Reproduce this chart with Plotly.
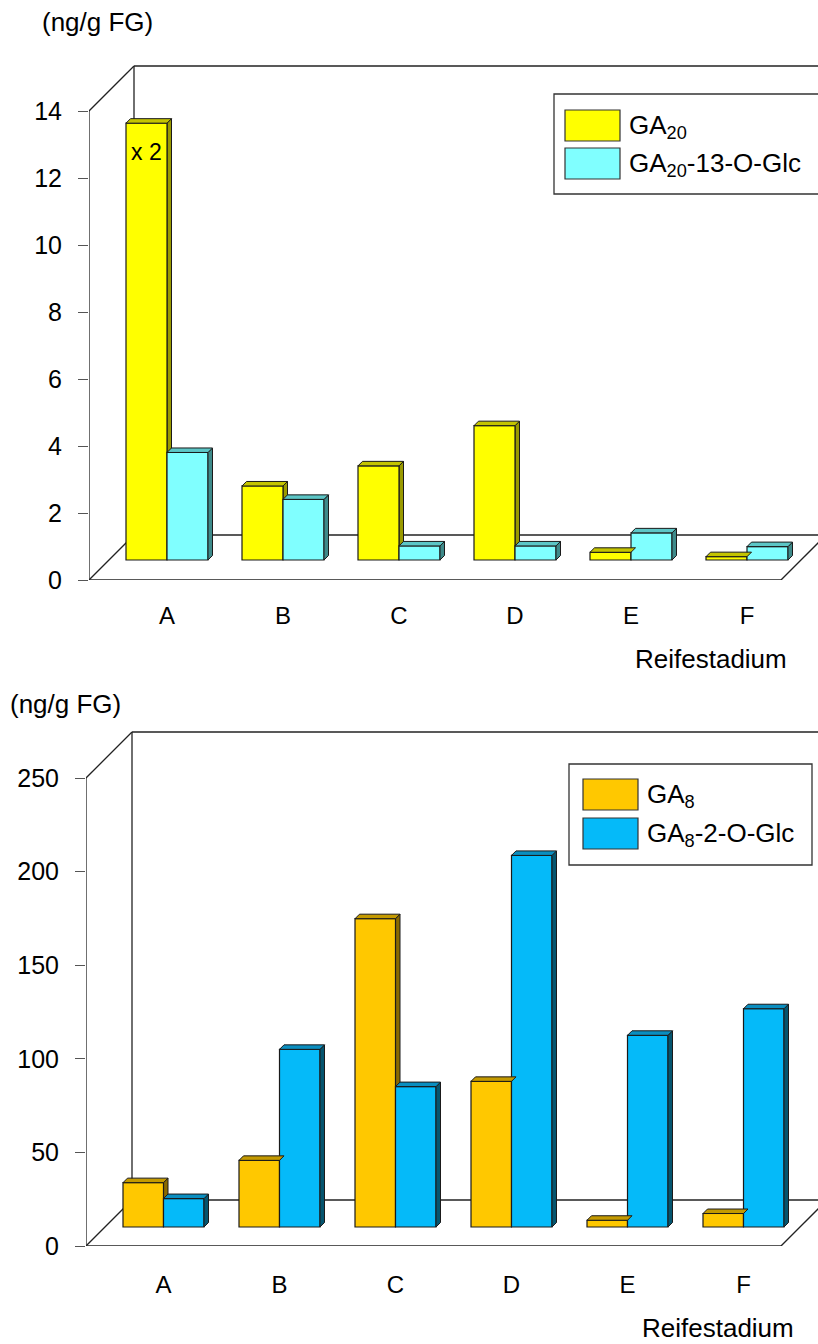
import plotly.graph_objects as go

# ---------------- data ----------------
categories = ["A", "B", "C", "D", "E", "F"]

top_series_names = ["GA<sub>20</sub>", "GA<sub>20</sub>-13-O-Glc"]
ga20 = [13.04, 2.21, 2.81, 4.01, 0.23, 0.10]
ga20_glc = [3.21, 1.81, 0.42, 0.42, 0.81, 0.40]
top_ticks = [0, 2, 4, 6, 8, 10, 12, 14]

bot_series_names = ["GA<sub>8</sub>", "GA<sub>8</sub>-2-O-Glc"]
ga8 = [23.7, 35.6, 164.7, 77.8, 3.6, 7.2]
ga8_glc = [15.2, 94.9, 75.0, 198.5, 102.4, 116.6]
bot_ticks = [0, 50, 100, 150, 200, 250]

y_unit_label = "(ng/g FG)"
x_title = "Reifestadium"
bar_note = "x 2"

# ---------------- styles ----------------
W, H = 818, 1344
FONT = "Liberation Sans, Arial, sans-serif"
EDGE = "#1a1a1a"
AXC = "#222222"

top_colors = dict(front=["#FFFF00", "#80FFFF"], top=["#C4C400", "#5CC6C6"], side=["#9A9A00", "#3E8A8A"])
bot_colors = dict(front=["#FFC800", "#05BAF9"], top=["#C49A00", "#0A8EC0"], side=["#8A6A00", "#05556F"])

fig = go.Figure()
shapes = []
annotations = []


def px_to_paper_y(py):
    return (H - py) / H


def px_to_paper_x(px):
    return px / W


def build_chart(idx, vals, names, colors, ticks, cfg):
    xa = "x" if idx == 1 else "x2"
    ya = "y" if idx == 1 else "y2"
    step = cfg["step"]
    ppu = cfg["ppu"]
    cat0 = cfg["cat0"]
    xL = (cfg["ax_x"] - cat0) / step
    xRmax = (W - cat0) / step
    ytop = (cfg["y0"] - cfg["dom_top"]) / ppu
    Dx = cfg["depth_px"] / step
    Dy = cfg["depth_px"] / ppu
    base = (cfg["y0"] - cfg["bar_base_px"]) / ppu
    w = cfg["bar_w_px"] / step
    bdx = cfg["bar_depth_px"] / step
    bdy = cfg["bar_depth_px"] / ppu
    tmax = ticks[-1]
    xFR = (cfg["floor_right_px"] - cat0) / step

    xaxis = dict(domain=[cfg["ax_x"] / W, 1], range=[xL, xRmax], showgrid=False, zeroline=False,
                 showline=False, tickmode="array", tickvals=list(range(len(categories))),
                 ticktext=categories, ticks="", ticklabelstandoff=cfg["xlab_standoff"], automargin=False,
                 tickfont=dict(family=FONT, size=24, color="#000"), anchor=ya, fixedrange=True)
    yaxis = dict(domain=[px_to_paper_y(cfg["y0"]), px_to_paper_y(cfg["dom_top"])], range=[0, ytop],
                 showgrid=False, zeroline=False, showline=False, tickmode="array", tickvals=ticks,
                 ticks="outside", ticklen=10, tickcolor="#555", tickwidth=1,
                 ticklabelstandoff=11, automargin=False,
                 tickfont=dict(family=FONT, size=25, color="#000"), anchor=xa, fixedrange=True)
    fig.update_layout({("xaxis" if idx == 1 else "xaxis2"): xaxis, ("yaxis" if idx == 1 else "yaxis2"): yaxis})

    def line(x0, y0, x1, y1, layer="below"):
        shapes.append(dict(type="line", xref=xa, yref=ya, x0=x0, y0=y0, x1=x1, y1=y1,
                           line=dict(color=AXC, width=1.3), layer=layer))

    # walls and floor (behind bars)
    line(xL + Dx, Dy, xL + Dx, tmax + Dy)
    line(xL + Dx, tmax + Dy, xRmax, tmax + Dy)
    line(xL + Dx, Dy, xRmax, Dy)
    line(xL, 0, xL, tmax)
    line(xL, tmax, xL + Dx, tmax + Dy)
    line(xL, 0, xFR, 0)
    line(xL, 0, xL + Dx, Dy)
    line(xFR, 0, xFR + Dx, Dy)

    offsets = [-w, 0.0]
    for s, series in enumerate(vals):
        fig.add_trace(go.Bar(x=list(range(len(categories))), y=series, base=[base] * len(series),
                             width=w, offset=offsets[s], xaxis=xa, yaxis=ya, showlegend=False,
                             name=names[s].replace("<sub>", "").replace("</sub>", ""),
                             marker=dict(color=colors["front"][s], line=dict(color=EDGE, width=1.2))))
        for i, v in enumerate(series):
            xl = i + offsets[s]
            xr = xl + w
            t = base + v
            side = (f"M {xr},{base} L {xr},{t} L {xr + bdx},{t + bdy} L {xr + bdx},{base + bdy} Z")
            topf = (f"M {xl},{t} L {xr},{t} L {xr + bdx},{t + bdy} L {xl + bdx},{t + bdy} Z")
            shapes.append(dict(type="path", path=side, xref=xa, yref=ya, fillcolor=colors["side"][s],
                               line=dict(color=EDGE, width=1), layer="below" if s == 0 else "above"))
            shapes.append(dict(type="path", path=topf, xref=xa, yref=ya, fillcolor=colors["top"][s],
                               line=dict(color=EDGE, width=1), layer="above"))

    # unit label & x title
    annotations.append(dict(text=y_unit_label, x=px_to_paper_x(cfg["unit_x"]), y=px_to_paper_y(cfg["unit_y"]),
                            xref="paper", yref="paper", xanchor="left", yanchor="middle", showarrow=False,
                            font=dict(family=FONT, size=26, color="#000")))
    annotations.append(dict(text=x_title, x=px_to_paper_x(cfg["xt_x"]), y=px_to_paper_y(cfg["xt_y"]),
                            xref="paper", yref="paper", xanchor="right", yanchor="middle", showarrow=False,
                            font=dict(family=FONT, size=26, color="#000")))

    # legend box
    lx0, ly0, lx1, ly1 = cfg["legend"]
    shapes.append(dict(type="rect", xref="paper", yref="paper", x0=px_to_paper_x(lx0), x1=px_to_paper_x(lx1),
                       y0=px_to_paper_y(ly1), y1=px_to_paper_y(ly0), line=dict(color="#333", width=1.3),
                       fillcolor="white", layer="above"))
    for s in range(2):
        sy = ly0 + cfg["leg_sym_dy"] + s * cfg["leg_row"]
        sx = lx0 + cfg["leg_sym_dx"]
        shapes.append(dict(type="rect", xref="paper", yref="paper", x0=px_to_paper_x(sx), x1=px_to_paper_x(sx + 55),
                           y0=px_to_paper_y(sy + 31), y1=px_to_paper_y(sy), fillcolor=colors["front"][s],
                           line=dict(color="#333", width=1.2), layer="above"))
        annotations.append(dict(text=names[s], x=px_to_paper_x(sx + 62), y=px_to_paper_y(sy + 16),
                                xref="paper", yref="paper", xanchor="left", yanchor="middle", showarrow=False,
                                font=dict(family=FONT, size=26, color="#000")))
    return base, w


top_cfg = dict(step=116, ppu=33.5, cat0=167, ax_x=89, y0=580, dom_top=40, depth_px=45, bar_base_px=560,
               bar_w_px=41, bar_depth_px=4.5, floor_right_px=781, xlab_standoff=19,
               unit_x=40, unit_y=22, xt_x=789, xt_y=659, legend=(554, 94, 822, 194),
               leg_sym_dx=11, leg_sym_dy=16, leg_row=38)
bot_cfg = dict(step=116, ppu=93.6 / 50, cat0=163.5, ax_x=86, y0=1246, dom_top=700, depth_px=46, bar_base_px=1227,
               bar_w_px=40.5, bar_depth_px=4.5, floor_right_px=781, xlab_standoff=22,
               unit_x=8, unit_y=704, xt_x=796, xt_y=1328, legend=(569, 764, 812, 865),
               leg_sym_dx=14, leg_sym_dy=15, leg_row=39)

base_top, w_top = build_chart(1, [ga20, ga20_glc], top_series_names, top_colors, top_ticks, top_cfg)
build_chart(2, [ga8, ga8_glc], bot_series_names, bot_colors, bot_ticks, bot_cfg)

# "x 2" note inside bar A of the top chart
annotations.append(dict(text=bar_note, x=0 - w_top / 2, y=base_top + ga20[0] - 0.85, xref="x", yref="y",
                        showarrow=False, font=dict(family=FONT, size=23, color="#000")))

fig.update_layout(template="none", width=W, height=H, margin=dict(l=0, r=0, t=0, b=0, pad=0),
                  paper_bgcolor="white", plot_bgcolor="rgba(0,0,0,0)", barmode="overlay",
                  shapes=shapes, annotations=annotations, showlegend=False, font=dict(family=FONT))

fig.write_html("out.html")
